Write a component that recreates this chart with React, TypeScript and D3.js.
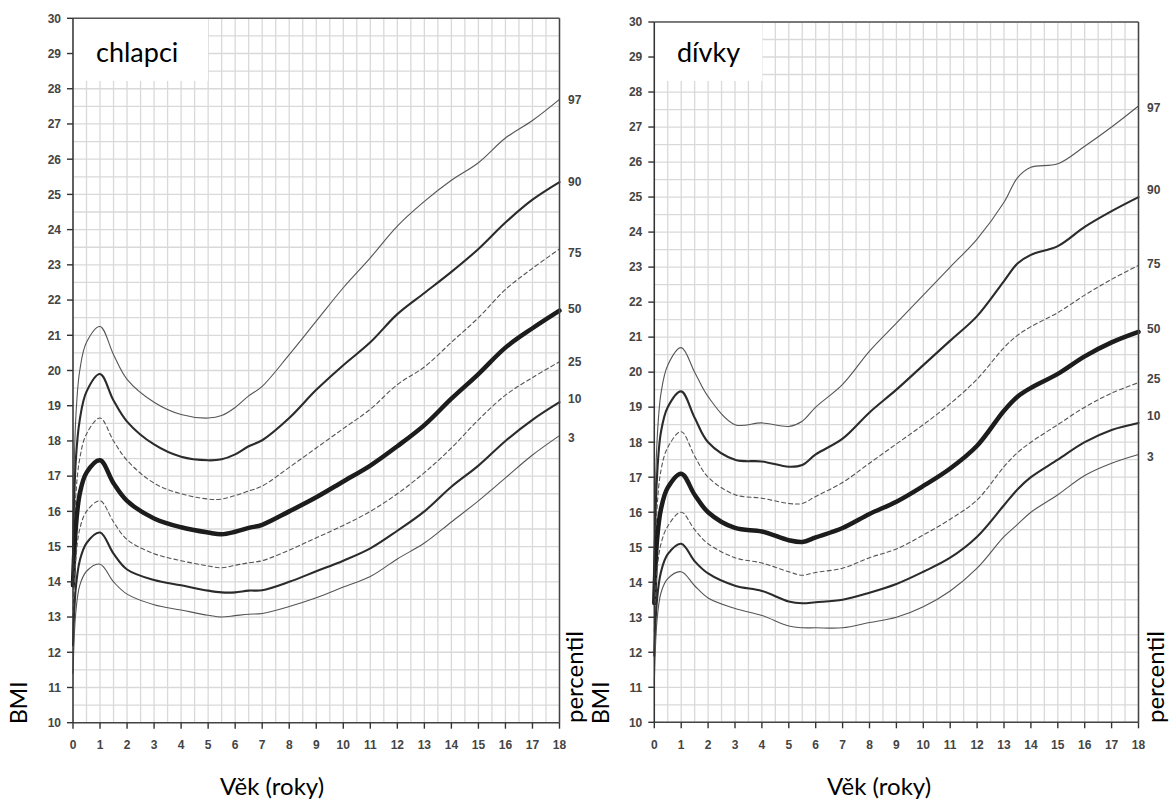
import React from "react";
import * as d3 from "d3";

const percentiles = ["97", "90", "75", "50", "25", "10", "3"];
const yTicks = d3.range(10, 31);
const xTicks = d3.range(0, 19);

// Boys (chlapci)
const boysAges = [0, 0.1, 0.25, 0.5, 1, 1.5, 2, 3, 4, 5, 5.5, 6, 6.5, 7, 8, 9, 10, 11, 12, 13, 14, 15, 16, 17, 18];
const boysP97 = [15.0, 18.6, 20.0, 20.8, 21.25, 20.45, 19.75, 19.1, 18.75, 18.65, 18.72, 18.95, 19.28, 19.55, 20.45, 21.4, 22.35, 23.2, 24.1, 24.8, 25.4, 25.9, 26.6, 27.1, 27.7];
const boysP90 = [14.6, 17.4, 18.6, 19.4, 19.9, 19.15, 18.55, 17.9, 17.55, 17.45, 17.48, 17.62, 17.85, 18.02, 18.65, 19.45, 20.15, 20.8, 21.6, 22.2, 22.8, 23.45, 24.2, 24.85, 25.35];
const boysP75 = [14.2, 16.4, 17.5, 18.2, 18.65, 18.0, 17.45, 16.8, 16.5, 16.35, 16.35, 16.45, 16.58, 16.72, 17.25, 17.8, 18.35, 18.9, 19.6, 20.1, 20.8, 21.5, 22.3, 22.9, 23.45];
const boysP50 = [13.9, 15.5, 16.5, 17.1, 17.45, 16.8, 16.3, 15.8, 15.55, 15.4, 15.35, 15.42, 15.53, 15.62, 16.0, 16.4, 16.85, 17.3, 17.85, 18.45, 19.2, 19.9, 20.65, 21.2, 21.7];
const boysP25 = [13.0, 14.6, 15.5, 16.0, 16.3, 15.7, 15.2, 14.8, 14.6, 14.45, 14.4, 14.47, 14.54, 14.6, 14.9, 15.25, 15.6, 16.0, 16.5, 17.1, 17.8, 18.6, 19.3, 19.8, 20.25];
const boysP10 = [12.2, 13.8, 14.6, 15.1, 15.4, 14.8, 14.35, 14.05, 13.9, 13.75, 13.7, 13.7, 13.75, 13.76, 14.0, 14.3, 14.6, 14.95, 15.45, 16.0, 16.7, 17.3, 18.0, 18.6, 19.1];
const boysP3 = [11.4, 13.1, 13.9, 14.3, 14.5, 14.0, 13.65, 13.35, 13.2, 13.05, 13.0, 13.04, 13.08, 13.1, 13.3, 13.55, 13.85, 14.15, 14.65, 15.1, 15.7, 16.3, 16.95, 17.6, 18.15];
const boysLabelAt = [27.7, 25.35, 23.35, 21.75, 20.25, 19.2, 18.1];

// Girls (dívky)
const girlsAges = [0, 0.1, 0.25, 0.5, 1, 1.5, 2, 3, 4, 5, 5.5, 6, 7, 8, 9, 10, 11, 12, 13, 13.5, 14, 15, 16, 17, 18];
const girlsP97 = [14.8, 18.0, 19.4, 20.2, 20.7, 20.0, 19.3, 18.5, 18.55, 18.45, 18.6, 19.0, 19.65, 20.6, 21.4, 22.2, 23.0, 23.8, 24.85, 25.55, 25.85, 25.95, 26.45, 27.0, 27.6];
const girlsP90 = [14.3, 17.0, 18.3, 19.0, 19.45, 18.7, 18.0, 17.5, 17.45, 17.3, 17.35, 17.65, 18.1, 18.85, 19.5, 20.2, 20.9, 21.6, 22.6, 23.1, 23.35, 23.6, 24.15, 24.6, 25.0];
const girlsP75 = [13.9, 16.1, 17.2, 17.85, 18.3, 17.6, 17.0, 16.5, 16.4, 16.25, 16.25, 16.45, 16.85, 17.4, 17.95, 18.5, 19.1, 19.8, 20.7, 21.05, 21.3, 21.7, 22.2, 22.65, 23.05];
const girlsP50 = [13.4, 15.2, 16.1, 16.7, 17.1, 16.5, 16.0, 15.55, 15.45, 15.2, 15.15, 15.28, 15.55, 15.95, 16.3, 16.75, 17.25, 17.9, 18.9, 19.3, 19.55, 19.95, 20.45, 20.85, 21.15];
const girlsP25 = [12.6, 14.3, 15.1, 15.6, 16.0, 15.5, 15.1, 14.7, 14.55, 14.3, 14.2, 14.28, 14.4, 14.7, 14.95, 15.35, 15.8, 16.35, 17.3, 17.7, 18.0, 18.5, 19.0, 19.4, 19.7];
const girlsP10 = [11.9, 13.5, 14.3, 14.8, 15.1, 14.6, 14.25, 13.9, 13.75, 13.45, 13.4, 13.43, 13.5, 13.7, 13.95, 14.3, 14.7, 15.3, 16.2, 16.65, 17.0, 17.5, 18.0, 18.35, 18.55];
const girlsP3 = [11.1, 12.9, 13.7, 14.1, 14.3, 13.9, 13.55, 13.25, 13.05, 12.75, 12.7, 12.7, 12.7, 12.85, 13.0, 13.3, 13.75, 14.4, 15.3, 15.65, 16.0, 16.5, 17.05, 17.4, 17.65];
const girlsLabelAt = [27.55, 25.2, 23.1, 21.25, 19.8, 18.75, 17.6];

const lineStyles: Record<string, { w: number; c: string; dash?: string }> = {
  "97": { w: 1.1, c: "#555" },
  "90": { w: 2.1, c: "#2b2b2b" },
  "75": { w: 1.1, c: "#555", dash: "4,3" },
  "50": { w: 4.5, c: "#1c1c1c" },
  "25": { w: 1.1, c: "#555", dash: "4,3" },
  "10": { w: 2.1, c: "#2b2b2b" },
  "3": { w: 1.1, c: "#555" },
};

const tickFont = "'Liberation Sans', Arial, sans-serif";
const titleFont = "Lato, 'Noto Sans', sans-serif";

type PanelProps = {
  ages: number[];
  series: number[][];
  labelAt: number[];
  x0: number; x1: number; y0: number; y1: number;
  title: string; boxW: number; titleX: number;
  bmiX: number; percX: number; vekX: number; percLabelX: number;
};

function Panel(p: PanelProps) {
  const x = d3.scaleLinear().domain([0, 18]).range([p.x0, p.x1]);
  const y = d3.scaleLinear().domain([10, 30]).range([p.y1, p.y0]);
  const gridX = d3.range(0, 18.01, 0.5);
  const gridY = d3.range(10, 30.01, 0.5);
  const line = d3.line<number>().x((_, i) => x(p.ages[i])).y((v) => y(v)).curve(d3.curveCatmullRom.alpha(0.5));
  return (
    <g>
      {gridX.map((g) => (
        <line key={"gx" + g} x1={x(g)} x2={x(g)} y1={y(10)} y2={y(30)} stroke="#d9d9d9" strokeWidth={1.3} />
      ))}
      {gridY.map((g) => (
        <line key={"gy" + g} x1={x(0)} x2={x(18)} y1={y(g)} y2={y(g)} stroke="#d9d9d9" strokeWidth={1.3} />
      ))}
      <rect x={x(0)} y={y(30)} width={p.boxW} height={81 - y(30)} fill="#fff" />
      <text x={p.titleX} y={62} fontFamily={titleFont} fontSize={27} fill="#000">{p.title}</text>
      {p.series.map((s, i) => {
        const st = lineStyles[percentiles[i]];
        return (
          <path key={"s" + i} d={line(s) || ""} fill="none" stroke={st.c} strokeWidth={st.w}
            strokeDasharray={st.dash} strokeLinejoin="round" strokeLinecap="round" />
        );
      })}
      <line x1={x(0)} x2={x(18)} y1={y(30)} y2={y(30)} stroke="#555" strokeWidth={1.5} />
      <line x1={x(18)} x2={x(18)} y1={y(30)} y2={y(10)} stroke="#444" strokeWidth={1.5} />
      <line x1={x(0)} x2={x(18)} y1={y(10)} y2={y(10)} stroke="#444" strokeWidth={1.5} />
      <line x1={x(0)} x2={x(0)} y1={y(30)} y2={y(10)} stroke="#333" strokeWidth={1.5} />
      {yTicks.map((t) => (
        <g key={"yt" + t}>
          <line x1={x(0) - 6} x2={x(0)} y1={y(t)} y2={y(t)} stroke="#333" strokeWidth={1.4} />
          <text x={x(0) - 12} y={y(t)} dy="0.36em" textAnchor="end" fontFamily={tickFont}
            fontWeight="bold" fontSize={12} fill="#444">{t}</text>
        </g>
      ))}
      {xTicks.map((t) => (
        <g key={"xt" + t}>
          <line x1={x(t)} x2={x(t)} y1={y(10)} y2={y(10) + 6} stroke="#333" strokeWidth={1.4} />
          <text x={x(t)} y={748.5} textAnchor="middle" fontFamily={tickFont}
            fontWeight="bold" fontSize={12} fill="#444">{t}</text>
        </g>
      ))}
      {percentiles.map((pc, i) => (
        <text key={"pl" + pc} x={p.percLabelX} y={y(p.labelAt[i])} dy="0.36em" fontFamily={tickFont}
          fontWeight="bold" fontSize={12} fill="#444">{pc}</text>
      ))}
      <text transform={`translate(${p.bmiX},724) rotate(-90)`} fontFamily={titleFont} fontSize={23} fill="#000">BMI</text>
      <text transform={`translate(${p.percX},723) rotate(-90)`} fontFamily={titleFont} fontSize={24} fill="#000">percentil</text>
      <text x={p.vekX} y={795} textAnchor="middle" fontFamily={titleFont} fontSize={24} fill="#000">Věk (roky)</text>
    </g>
  );
}

export default function App() {
  return (
    <svg width={1173} height={801} style={{ position: "absolute", left: 0, top: 0, background: "#fff" }}>
      <rect x={0} y={0} width={1173} height={801} fill="#fff" />
      <Panel ages={boysAges}
        series={[boysP97, boysP90, boysP75, boysP50, boysP25, boysP10, boysP3]}
        labelAt={boysLabelAt}
        x0={73} x1={559.5} y0={18.3} y1={722.7}
        title="chlapci" boxW={135} titleX={96}
        bmiX={27} percX={583} vekX={272} percLabelX={568} />
      <Panel ages={girlsAges}
        series={[girlsP97, girlsP90, girlsP75, girlsP50, girlsP25, girlsP10, girlsP3]}
        labelAt={girlsLabelAt}
        x0={654.3} x1={1138.5} y0={22} y1={722.3}
        title="dívky" boxW={108} titleX={677}
        bmiX={609} percX={1164} vekX={879} percLabelX={1147} />
    </svg>
  );
}
